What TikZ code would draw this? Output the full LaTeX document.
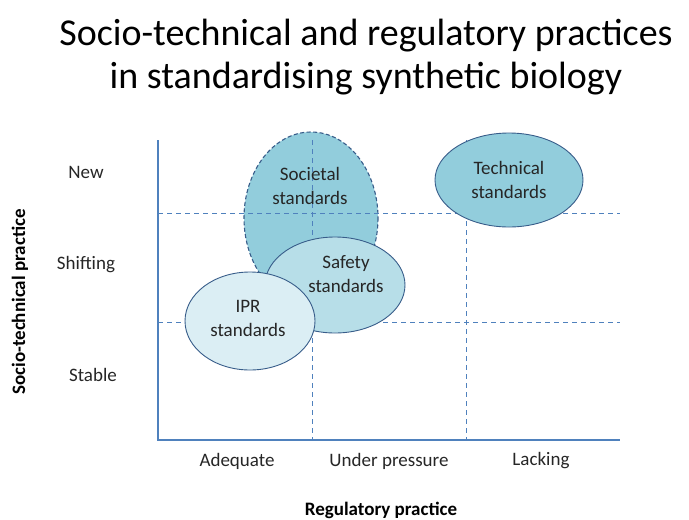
\documentclass[tikz,border=0pt]{standalone}
\usepackage{fontspec}
\setmainfont{Carlito}
\definecolor{gridblue}{RGB}{79,129,189}
\definecolor{rimblue}{RGB}{56,93,138}
\definecolor{fillmid}{RGB}{146,205,220}
\definecolor{filllight}{RGB}{183,222,232}
\definecolor{fillpale}{RGB}{219,238,244}
\tikzset{
  axisline/.style={color=gridblue, line width=1.2pt},
  gridline/.style={color=gridblue, line width=1pt, dash pattern=on 5pt off 4pt},
  blob/.style={draw=rimblue, line width=0.9pt},
  label/.style={font=\fontsize{19}{24}\selectfont, align=center, text=black!85, inner sep=0pt},
  axistitle/.style={font=\fontsize{19}{22}\selectfont\bfseries, inner sep=0pt}
}
\begin{document}
\begin{tikzpicture}[x=1pt, y=-1pt]
    \useasboundingbox (0,0) rectangle (689,520);
    \node[font=\fontsize{38}{43}\selectfont, align=center, inner sep=0pt] (title) at (366,57) {Socio-technical and regulatory practices\\in standardising synthetic biology};
    \filldraw[fill=fillmid, blob, line width=1.1pt, dash pattern=on 4pt off 2.5pt] (311,218) ellipse (67 and 86);
    \draw[gridline] (158,213) -- (620,213);
    \draw[gridline] (158,322) -- (620,322);
    \draw[gridline] (312,140) -- (312,440);
    \draw[gridline] (466,140) -- (466,440);
    \draw[axisline] (158,140) -- (158,440) -- (620,440);
    \filldraw[fill=filllight, blob] (335,285) ellipse (70 and 48);
    \filldraw[fill=fillpale,  blob] (250,321) ellipse (65 and 49);
    \filldraw[fill=fillmid,   blob] (509,180) ellipse (74 and 47);
    \node[label] (societal)  at (310,186) {Societal\\standards};
    \node[label] (safety)    at (346,274) {Safety\\standards};
    \node[label] (ipr)       at (248,318) {IPR\\standards};
    \node[label] (technical) at (509,180) {Technical\\standards};
    \node[label] (new)       at (86,172)  {New};
    \node[label] (shifting)  at (86,265)  {Shifting};
    \node[label] (stable)    at (93,375)  {Stable};
    \node[label] (adequate)  at (237,461) {Adequate};
    \node[label] (pressure)  at (389,461) {Under pressure};
    \node[label] (lacking)   at (541,461) {Lacking};
    \node[axistitle] (regtitle) at (381,510) {Regulatory practice};
    \node[axistitle, rotate=90] (soctitle) at (20,302) {Socio-technical practice};
\end{tikzpicture}
\end{document}
